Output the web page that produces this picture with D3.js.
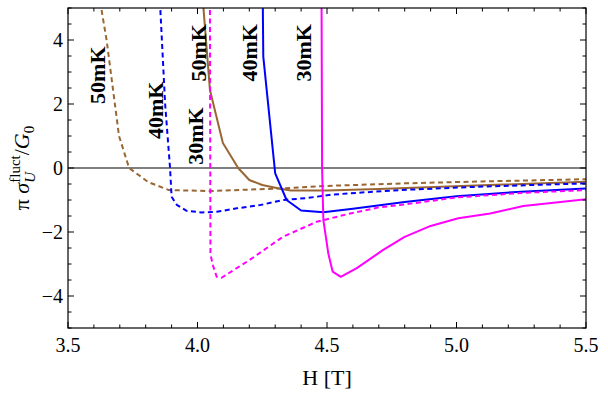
<!DOCTYPE html>
<html lang="en">
<head>
  <meta charset="UTF-8" />
  <title>Fluctuation conductivity vs H</title>
  <script src="https://d3js.org/d3.v7.min.js"></script>
  <style>
    body {
      margin: 0;
      padding: 0;
      background: white;
      overflow: hidden;
    }
    svg text {
      font-family: "Liberation Serif", "Times New Roman", serif;
      fill: black;
    }
  </style>
</head>
<body>
  <div id="viz"></div>
  <script>
    // data: [H (T), pi*sigma/G0]
    const solid50 = [[4.021, 5.2], [4.048, 2.44], [4.098, 0.78], [4.157, 0], [4.20, -0.375],
      [4.25, -0.53], [4.31, -0.63], [4.36, -0.70], [4.5, -0.70], [4.7, -0.66], [5.1, -0.54], [5.5, -0.43]];
    const dashed50 = [[3.624, 5.2], [3.649, 4], [3.681, 2], [3.697, 1], [3.736, 0], [3.81, -0.44],
      [3.89, -0.69], [4.05, -0.72], [4.32, -0.64], [4.5, -0.56], [4.8, -0.48], [5.1, -0.42], [5.5, -0.35]];
    const solid40 = [[4.252, 5.2], [4.254, 3.48], [4.30, -0.17], [4.344, -1.0], [4.40, -1.33],
      [4.486, -1.38], [4.6, -1.27], [4.8, -1.06], [5.0, -0.88], [5.25, -0.74], [5.5, -0.64]];
    const dashed40 = [[3.855, 5.2], [3.875, 2], [3.894, 0], [3.90, -0.9], [3.92, -1.15], [3.958, -1.34],
      [4.016, -1.39], [4.074, -1.37], [4.151, -1.26], [4.241, -1.16], [4.33, -1.0], [4.422, -0.94],
      [4.51, -0.84], [4.589, -0.79], [4.78, -0.69], [5.1, -0.58], [5.5, -0.48]];
    const solid30 = [[4.479, 5.2], [4.481, 0], [4.486, -1.63], [4.505, -2.67], [4.522, -3.24],
      [4.553, -3.4], [4.615, -3.13], [4.717, -2.56], [4.80, -2.15], [4.90, -1.81], [5.007, -1.57],
      [5.13, -1.42], [5.258, -1.19], [5.5, -0.98]];
    const dashed30 = [[4.048, 5.2], [4.050, -2.7], [4.060, -3.05], [4.074, -3.4], [4.093, -3.43],
      [4.20, -2.88], [4.33, -2.15], [4.46, -1.68], [4.59, -1.42], [4.70, -1.23], [4.78, -1.16],
      [5.0, -0.92], [5.25, -0.78], [5.5, -0.69]];

    const series = [
      { pts: dashed50, color: "#996633", dashed: true },
      { pts: solid50, color: "#996633", dashed: false },
      { pts: dashed40, color: "#0000ff", dashed: true },
      { pts: solid40, color: "#0000ff", dashed: false },
      { pts: dashed30, color: "#ff00ff", dashed: true },
      { pts: solid30, color: "#ff00ff", dashed: false }
    ];

    // curve labels: text, H at baseline, value at centre
    const labelText = ["50mK", "40mK", "30mK", "50mK", "40mK", "30mK"];
    const labelH = [3.643, 3.868, 4.02, 4.031, 4.23, 4.438];
    const labelV = [2.9, 1.8, 1.0, 3.6, 3.6, 3.6];

    const xTicks = [3.5, 4.0, 4.5, 5.0, 5.5];
    const yTicks = [-4, -2, 0, 2, 4];

    const width = 608, height = 396;
    const margin = { left: 68, right: 22, top: 8, bottom: 68 };

    const x = d3.scaleLinear().domain([3.5, 5.5]).range([margin.left, width - margin.right]);
    const y = d3.scaleLinear().domain([-5, 5]).range([height - margin.bottom, margin.top]);

    const svg = d3.select("#viz").append("svg")
      .attr("width", width)
      .attr("height", height)
      .attr("font-family", "Liberation Serif, serif");

    svg.append("defs").append("clipPath").attr("id", "plot")
      .append("rect")
      .attr("x", margin.left).attr("y", margin.top)
      .attr("width", x.range()[1] - x.range()[0])
      .attr("height", y.range()[0] - y.range()[1]);

    // zero line
    svg.append("line")
      .attr("x1", x(3.5)).attr("x2", x(5.5))
      .attr("y1", y(0)).attr("y2", y(0))
      .attr("stroke", "black").attr("stroke-width", 1.2);

    const line = d3.line().x(d => x(d[0])).y(d => y(d[1]));

    const curves = svg.append("g").attr("clip-path", "url(#plot)");
    series.forEach(s => {
      curves.append("path")
        .datum(s.pts)
        .attr("d", line)
        .attr("fill", "none")
        .attr("stroke", s.color)
        .attr("stroke-width", 2)
        .attr("stroke-linejoin", "round")
        .attr("stroke-dasharray", s.dashed ? "5,3.5" : null);
    });

    // frame
    svg.append("rect")
      .attr("x", x(3.5)).attr("y", y(5))
      .attr("width", x(5.5) - x(3.5))
      .attr("height", y(-5) - y(5))
      .attr("fill", "none")
      .attr("stroke", "black")
      .attr("stroke-width", 1.2);

    // ticks inside on all four sides
    const xMinor = d3.range(3.5, 5.501, 0.1);
    const yMinor = d3.range(-5, 5.001, 0.5);
    const ticks = svg.append("g").attr("stroke", "black").attr("stroke-width", 1);
    xMinor.forEach(v => {
      const major = Math.abs(v * 2 - Math.round(v * 2)) < 1e-6;
      const len = major ? 6 : 3.5;
      ticks.append("line").attr("x1", x(v)).attr("x2", x(v)).attr("y1", y(-5)).attr("y2", y(-5) - len);
      ticks.append("line").attr("x1", x(v)).attr("x2", x(v)).attr("y1", y(5)).attr("y2", y(5) + len);
    });
    yMinor.forEach(v => {
      const major = Math.abs(v / 2 - Math.round(v / 2)) < 1e-6;
      const len = major ? 6 : 3.5;
      ticks.append("line").attr("x1", x(3.5)).attr("x2", x(3.5) + len).attr("y1", y(v)).attr("y2", y(v));
      ticks.append("line").attr("x1", x(5.5)).attr("x2", x(5.5) - len).attr("y1", y(v)).attr("y2", y(v));
    });

    svg.selectAll(".xlab").data(xTicks).enter().append("text")
      .attr("x", d => x(d))
      .attr("y", y(-5) + 24)
      .attr("text-anchor", "middle")
      .style("font-size", "20px")
      .text(d => d.toFixed(1));

    svg.selectAll(".ylab").data(yTicks).enter().append("text")
      .attr("x", x(3.5) - 5)
      .attr("y", d => y(d) + 7)
      .attr("text-anchor", "end")
      .style("font-size", "20px")
      .text(d => d < 0 ? "\u2212" + Math.abs(d) : d);

    svg.append("text")
      .attr("x", (x(3.5) + x(5.5)) / 2)
      .attr("y", 385)
      .attr("text-anchor", "middle")
      .style("font-size", "22px")
      .text("H [T]");

    // y axis label: π σ_U^fluct / G_0
    const yl = svg.append("text")
      .attr("transform", `translate(29,${y(0)}) rotate(-90)`)
      .attr("text-anchor", "middle")
      .style("font-size", "22px");
    yl.append("tspan").text("\u03c0 ");
    yl.append("tspan").style("font-style", "italic").text("\u03c3");
    const sup = yl.append("tspan").attr("dy", -9).style("font-size", "15px").text("fluct");
    const supW = sup.node().getComputedTextLength();
    const sub = yl.append("tspan").attr("dx", -supW).attr("dy", 15)
      .style("font-size", "15px").style("font-style", "italic").text("U");
    const subW = sub.node().getComputedTextLength();
    yl.append("tspan").attr("dx", supW - subW).attr("dy", -6).text("/");
    yl.append("tspan").style("font-style", "italic").text("G");
    yl.append("tspan").attr("dy", 5).style("font-size", "15px").text("0");

    // curve labels
    labelText.forEach((t, i) => {
      svg.append("text")
        .attr("transform", `translate(${x(labelH[i])},${y(labelV[i])}) rotate(-90)`)
        .attr("text-anchor", "middle")
        .style("font-size", "22px")
        .style("font-weight", "bold")
        .text(t);
    });
  </script>
</body>
</html>
